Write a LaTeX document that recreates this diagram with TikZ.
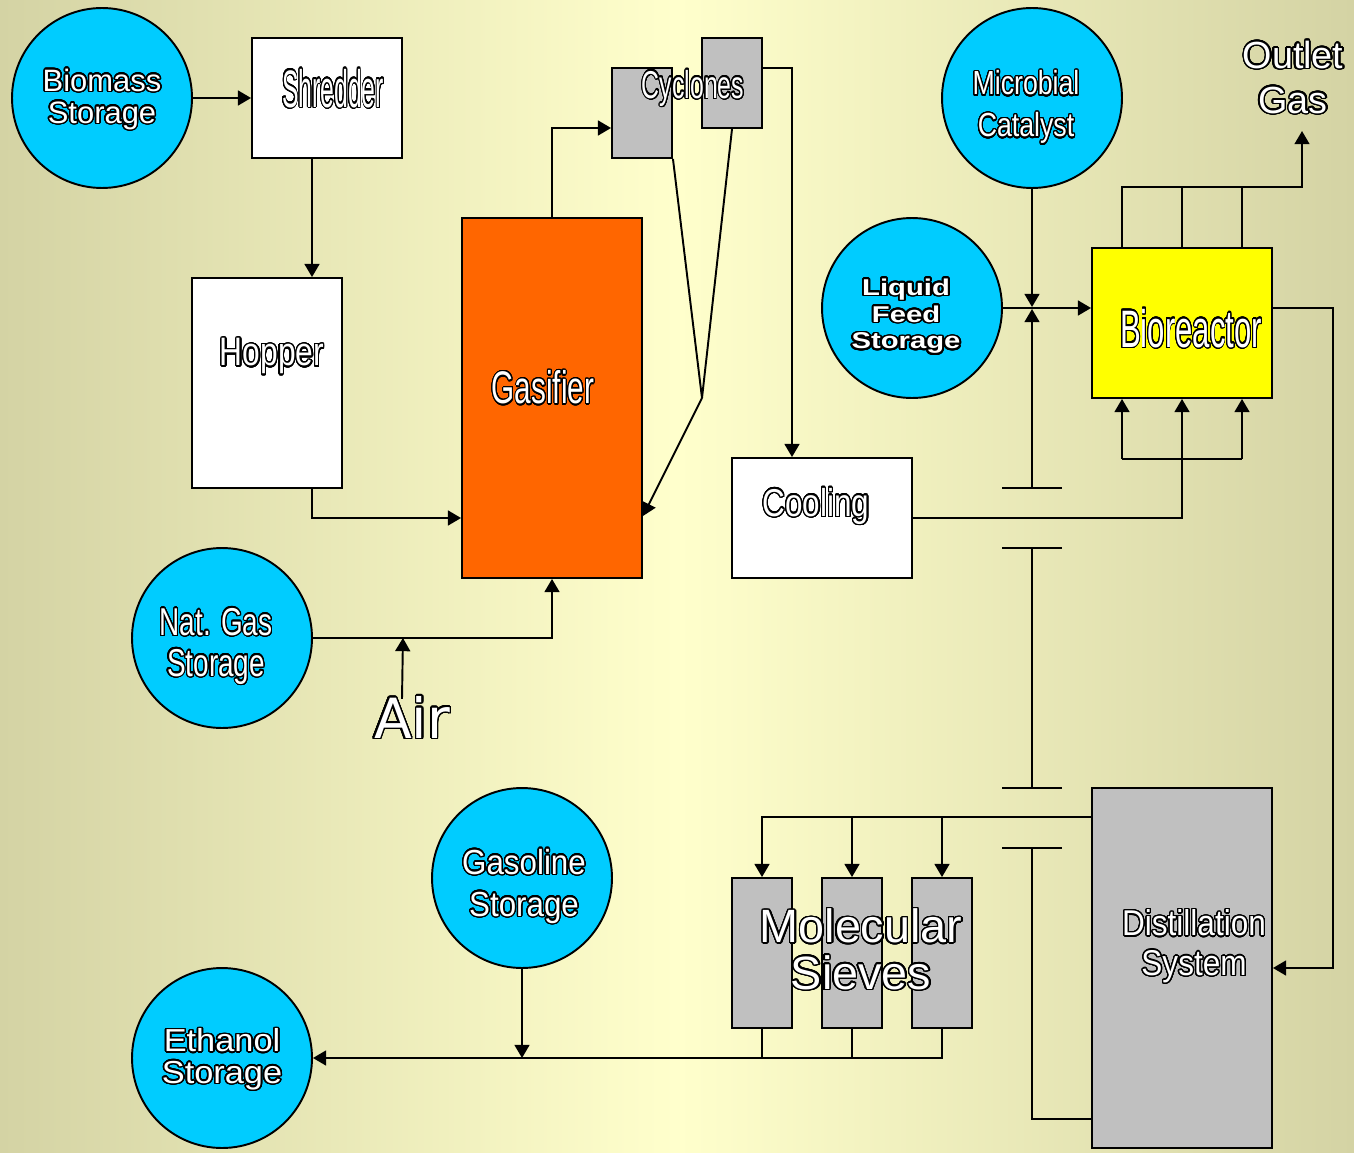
\documentclass[tikz,border=0pt]{standalone}
\usepackage{fontspec}
\setmainfont{Liberation Sans}
\newfontfamily\dvs{DejaVu Sans}
\usepackage{graphicx}
\usepackage{contour}
\contourlength{0.85pt}
\contournumber{32}
\usetikzlibrary{calc,arrows.meta}
\definecolor{tankc}{HTML}{00CCFF}
\definecolor{orng}{HTML}{FF6600}
\definecolor{gry}{HTML}{C0C0C0}
\definecolor{yel}{HTML}{FFFF00}
\definecolor{bgedge}{RGB}{212,211,164}
\definecolor{bgmid}{RGB}{255,255,204}
\newcommand\fs[2]{\fontsize{#1}{#2}\selectfont}
\newcommand\sq[2]{\scalebox{#1}[1]{\contour{black}{#2}}}
\pgfdeclarelayer{bgl}
\pgfdeclarelayer{wires}
\pgfsetlayers{bgl,wires,main}
\begin{document}
\begin{tikzpicture}[x=0.02cm,y=-0.02cm,
  tank/.style={circle,draw=black,fill=tankc,line width=1.1pt,minimum size=3.6cm,inner sep=0pt},
  box/.style={rectangle,draw=black,line width=1.1pt,inner sep=0pt},
  txt/.style={text=white,inner sep=0pt,align=center},
  ln/.style={line width=1.1pt},
  arr/.style={line width=1.1pt,-{Triangle[length=7.5pt,width=8.5pt]}}]
\begin{pgfonlayer}{bgl}
\shade[left color=bgedge,right color=bgedge,middle color=bgmid] (0,0) rectangle (1354,1152);
\end{pgfonlayer}
% tanks
\node[tank] (bms) at (102,98) {};
\node[tank] (mic) at (1032,98) {};
\node[tank] (liq) at (912,308) {};
\node[tank] (nat) at (222,638) {};
\node[tank] (gso) at (522,878) {};
\node[tank] (eth) at (222,1058) {};
% boxes
\node[box,fill=white,minimum width=3cm,minimum height=2.4cm] (shr) at (327,98) {};
\node[box,fill=white,minimum width=3cm,minimum height=4.2cm] (hop) at (267,383) {};
\node[box,fill=orng,minimum width=3.6cm,minimum height=7.2cm] (gas) at (552,398) {};
\node[box,fill=gry,minimum width=1.2cm,minimum height=1.8cm] (cy1) at (642,113) {};
\node[box,fill=gry,minimum width=1.2cm,minimum height=1.8cm] (cy2) at (732,83) {};
\node[box,fill=white,minimum width=3.6cm,minimum height=2.4cm] (cool) at (822,518) {};
\node[box,fill=yel,minimum width=3.6cm,minimum height=3cm] (bior) at (1182,323) {};
\node[box,fill=gry,minimum width=1.2cm,minimum height=3cm] (sv1) at (762,953) {};
\node[box,fill=gry,minimum width=1.2cm,minimum height=3cm] (sv2) at (852,953) {};
\node[box,fill=gry,minimum width=1.2cm,minimum height=3cm] (sv3) at (942,953) {};
\node[box,fill=gry,minimum width=3.6cm,minimum height=7.2cm] (dist) at (1182,968) {};
% texts
\node[txt,font={\fs{17.6}{18.1}}] (tbms) at (102,100) {\sq{1}{Biomass}\\\sq{1}{Storage}};
\node[txt,font={\fs{30}{32}}] (tshr) at (333,89) {\sq{0.47}{Shredder}};
\node[txt,font={\fs{22.6}{24}}] (thop) at (272,357) {\sq{0.8}{Hopper}};
\node[txt,font={\fs{26}{28}}] (tgas) at (543,388) {\sq{0.65}{Gasifier}};
\node[txt,font={\fs{22.1}{24}}] (tcyc) at (693,89) {\sq{0.64}{Cyclones}};
\node[txt,font={\fs{22.1}{24}}] (tcool) at (816,507) {\sq{0.81}{Cooling}};
\node[txt,font={\fs{19}{23.8}}] (tmic) at (1026,108) {\sq{0.8}{Microbial}\\\sq{0.8}{Catalyst}};
\node[txt,font={\fs{13}{15.3}\bfseries}] (tliq) at (906,317) {\sq{1.28}{Liquid}\\\sq{1.28}{Feed}\\\sq{1.28}{Storage}};
\node[txt,font={\fs{30}{32}}] (tbior) at (1191,329) {\sq{0.59}{Bioreactor}};
\node[txt,font={\fs{21.5}{25.5}}] (tout) at (1293,78) {\sq{1}{Outlet}\\\sq{1}{Gas}};
\node[txt,font={\fs{22.1}{23.2}}] (tnat) at (216,647) {\sq{0.72}{Nat. Gas}\\\sq{0.72}{Storage}};
\node[txt,font={\dvs\fs{31.5}{32}}] (tair) at (412,718) {\sq{1}{Air}};
\node[txt,font={\fs{19.8}{23.8}}] (tgso) at (524,887) {\sq{0.9}{Gasoline}\\\sq{0.9}{Storage}};
\node[txt,font={\fs{18.1}{18.1}}] (teth) at (222,1060) {\sq{1.08}{Ethanol}\\\sq{1.08}{Storage}};
\node[txt,font={\fs{26.6}{26.6}}] (tsv) at (861,950) {\sq{1}{Molecular}\\\sq{1}{Sieves}};
\node[txt,font={\fs{20.4}{22.7}}] (tdist) at (1194,947) {\sq{0.88}{Distillation}\\\sq{0.88}{System}};
% wires
\begin{pgfonlayer}{wires}
\draw[arr] (bms.east) -- (shr.west);
\draw[arr] ($(shr.south)+(-15,0)$) -- ($(hop.north)+(45,0)$);
\draw[arr] ($(hop.south)+(45,0)$) |- ($(gas.west)+(0,120)$);
\draw[arr] (gas.north) |- ($(cy1.west)+(0,15)$);
\coordinate (cj) at (702,398);
\draw[ln] (cy1.south east) -- (cj);
\draw[ln] (cy2.south) -- (cj);
\draw[arr] (cj) -- ($(gas.east)+(0,118)$);
\draw[arr] ($(cy2.east)+(0,-15)$) -| ($(cool.north)+(-30,0)$);
\draw[arr] (cool.east) -| (bior.south);
\draw[ln] ($(bior.south)+(-60,60)$) -- ($(bior.south)+(60,60)$);
\draw[arr] ($(bior.south)+(-60,60)$) -- ($(bior.south)+(-60,0)$);
\draw[arr] ($(bior.south)+(60,60)$) -- ($(bior.south)+(60,0)$);
\draw[arr] (nat.east) -| (gas.south);
\draw[arr] ($(tair.north)+(-10,3)$) -- ($(nat.east)+(90,0)$);
\draw[arr] (mic.south) -- ($(liq.east -| mic.south)+(0,-1)$);
\draw[arr] (liq.east) -- (liq.east -| bior.west);
\draw[arr] ($(bior.north)+(-60,0)$) |- ($(bior.north)+(120,-60)$) -- ($(bior.north)+(120,-116)$);
\draw[ln] (bior.north) -- ++(0,-60);
\draw[ln] ($(bior.north)+(60,0)$) -- ++(0,-60);
\draw[arr] ($(bior.east)+(0,-15)$) -- ++(60,0) |- (dist.east);
\coordinate (b1) at (1032,488);
\coordinate (b2) at (1032,548);
\coordinate (b3) at (1032,788);
\coordinate (b4) at (1032,848);
\draw[ln] ($(b1)+(-30,0)$) -- ($(b1)+(30,0)$);
\draw[arr] (b1) -- ($(liq.east -| b1)+(0,1)$);
\draw[ln] ($(b2)+(-30,0)$) -- ($(b2)+(30,0)$);
\draw[ln] ($(b3)+(-30,0)$) -- ($(b3)+(30,0)$);
\draw[ln] (b2) -- (b3);
\draw[ln] ($(b4)+(-30,0)$) -- ($(b4)+(30,0)$);
\draw[ln] (b4) |- ($(dist.south west)+(0,-30)$);
\draw[arr] ($(dist.north west)+(0,30)$) -| (sv1.north);
\draw[arr] ($(sv2.north)+(0,-60)$) -- (sv2.north);
\draw[arr] ($(sv3.north)+(0,-60)$) -- (sv3.north);
\draw[ln] (sv1.south) -- ++(0,30);
\draw[ln] (sv2.south) -- ++(0,30);
\draw[arr] (sv3.south) |- (eth.east);
\draw[arr] (gso.south) -- (gso.south |- eth.east);
\end{pgfonlayer}
\end{tikzpicture}
\end{document}
